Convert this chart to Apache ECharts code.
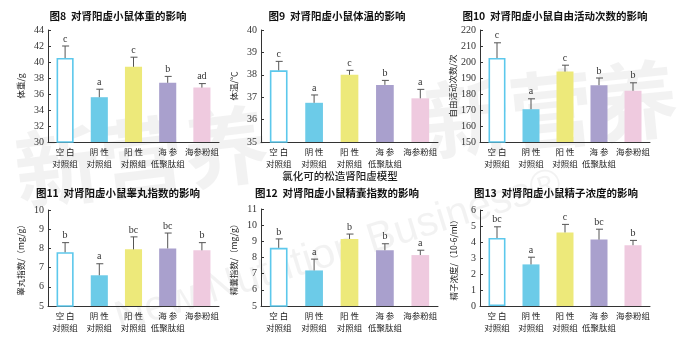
<!DOCTYPE html>
<html><head><meta charset="utf-8">
<script src="https://cdn.jsdelivr.net/npm/echarts@6/dist/echarts.min.js"></script>
<style>html,body{margin:0;padding:0;background:#fff}#c{width:680px;height:338px}</style>
</head><body><div id="c"></div>
<script>
const categories = ['空 白\n对照组','阴 性\n对照组','阳 性\n对照组','海 参\n低聚肽组','海参粉组'];
const titles = ['图8  对肾阳虚小鼠体重的影响','图9  对肾阳虚小鼠体温的影响','图10  对肾阳虚小鼠自由活动次数的影响','图11  对肾阳虚小鼠睾丸指数的影响','图12  对肾阳虚小鼠精囊指数的影响','图13  对肾阳虚小鼠精子浓度的影响'];
const subTitle = '氯化可的松造肾阳虚模型';
const yNames = ['体重/g','体温/℃','自由活动次数/次','睾丸指数/（mg/g）','精囊指数/（mg/g）','精子浓度/（10-6/ml）'];
const weight = [40.5,35.6,39.4,37.4,36.8];
const weightTop = [42.0,36.6,40.6,38.2,37.3];
const weightSig = ['c','a','c','b','ad'];
const temp = [38.2,36.75,38.0,37.55,36.95];
const tempTop = [38.6,37.1,38.2,37.75,37.35];
const tempSig = ['c','a','c','b','a'];
const activity = [202.5,170.5,194,185.5,182];
const activityTop = [212,177,198,190,187];
const activitySig = ['c','a','c','b','b'];
const testis = [7.8,6.6,7.95,8.0,7.9];
const testisTop = [8.3,7.2,8.6,8.8,8.3];
const testisSig = ['b','a','bc','bc','b'];
const vesicle = [8.6,7.2,9.15,8.45,8.15];
const vesicleTop = [9.15,7.9,9.45,8.85,8.45];
const vesicleSig = ['b','a','b','b','a'];
const sperm = [4.25,2.6,4.6,4.15,3.8];
const spermTop = [4.95,3.05,5.1,4.8,4.1];
const spermSig = ['bc','a','c','bc','b'];
const yMin = [30,35,150,5,5,0];
const yMax = [44,40,220,10,11,6];
const yInt = [2,1,10,1,1,1];

const panels = [[weight,weightTop,weightSig],[temp,tempTop,tempSig],[activity,activityTop,activitySig],[testis,testisTop,testisSig],[vesicle,vesicleTop,vesicleSig],[sperm,spermTop,spermSig]];
const colors = ['#ffffff','#6ccbe8','#ede97a','#a9a0cd','#efcadf'];
const grids = [
  {left:48,top:30,width:171,height:112},
  {left:261,top:30,width:177,height:112},
  {left:480,top:30,width:170,height:112},
  {left:48,top:210,width:171,height:96},
  {left:261,top:209,width:177,height:97},
  {left:480,top:210,width:170,height:96}
];
const titlePos = [[118,16],[337,16],[555,16],[118,193],[337,193],[556,193]];
const serif = 'Liberation Serif';
const cjk = 'Noto Sans CJK SC';

const option = {animation:false, backgroundColor:'#fff', grid:[], xAxis:[], yAxis:[], series:[], graphic:[]};
grids.forEach((g,i)=>{
  option.grid.push(g);
  option.xAxis.push({type:'category',gridIndex:i,data:categories,
    axisLine:{lineStyle:{color:'#333',width:1}},axisTick:{show:false},
    axisLabel:{color:'#222',fontSize:8.5,fontFamily:cjk,lineHeight:12,margin:4,interval:0}});
  option.yAxis.push({type:'value',gridIndex:i,min:yMin[i],max:yMax[i],interval:yInt[i],
    name:yNames[i],nameLocation:'middle',nameGap:(i==2||i==5)?22:23,nameRotate:90,
    nameTextStyle:{color:'#222',fontSize:8.5,fontFamily:cjk},
    axisLine:{show:true,lineStyle:{color:'#333',width:1}},
    axisTick:{show:true,inside:true,length:3,lineStyle:{color:'#333'}},
    splitLine:{show:false},
    axisLabel:{color:'#333',fontSize:10,fontFamily:serif,margin:4}});
  const [vals,tops,sig] = panels[i];
  option.series.push({type:'bar',xAxisIndex:i,yAxisIndex:i,barWidth:'50%',
    data:vals.map((v,k)=>({value:v,itemStyle:k===0?{color:'#ffffff',borderColor:'#5cc8ec',borderWidth:1.6}:{color:colors[k]}}))});
  option.series.push({type:'custom',xAxisIndex:i,yAxisIndex:i,z:5,
    data:vals.map((v,k)=>[k,v,tops[k]]),
    renderItem:function(params,api){
      const p0 = api.coord([api.value(0),api.value(1)]);
      const p1 = api.coord([api.value(0),api.value(2)]);
      const x = p0[0];
      const s = sig[params.dataIndex];
      return {type:'group',children:[
        {type:'line',shape:{x1:x,y1:p0[1],x2:x,y2:p1[1]},style:{stroke:'#555',lineWidth:1}},
        {type:'line',shape:{x1:x-3,y1:p1[1],x2:x+4,y2:p1[1]},style:{stroke:'#555',lineWidth:1}},
        {type:'text',style:{x:x,y:p1[1]-2,text:s,textAlign:'center',textVerticalAlign:'bottom',fill:'#333',font:'10px "Liberation Serif"'}}
      ]};
    }});
  option.graphic.push({type:'text',x:titlePos[i][0],y:titlePos[i][1],style:{text:titles[i],fill:'#111',font:'bold 10.5px "Noto Sans CJK SC"',textAlign:'center',textVerticalAlign:'middle'}});
});
option.graphic.push({type:'text',x:340,y:176,style:{text:subTitle,fill:'#222',font:'500 10.5px "Noto Sans CJK SC"',textAlign:'center',textVerticalAlign:'middle'}});
// watermark
option.graphic.push({type:'text',x:10,y:130,z:-10,rotation:0.12,style:{text:'新营养',fill:'rgba(0,0,0,0.05)',font:'bold 85px "Noto Sans CJK SC"'}});
option.graphic.push({type:'text',x:420,y:80,z:-10,rotation:0.1,style:{text:'新营养',fill:'rgba(0,0,0,0.05)',font:'bold 85px "Noto Sans CJK SC"'}});
option.graphic.push({type:'text',x:110,y:300,z:-10,rotation:0.3,style:{text:'New Nutrition Business®',fill:'rgba(0,0,0,0.05)',font:'42px "Liberation Sans"'}});
const chart = echarts.init(document.getElementById('c'),null,{renderer:'canvas'});
chart.setOption(option);
</script></body></html>
